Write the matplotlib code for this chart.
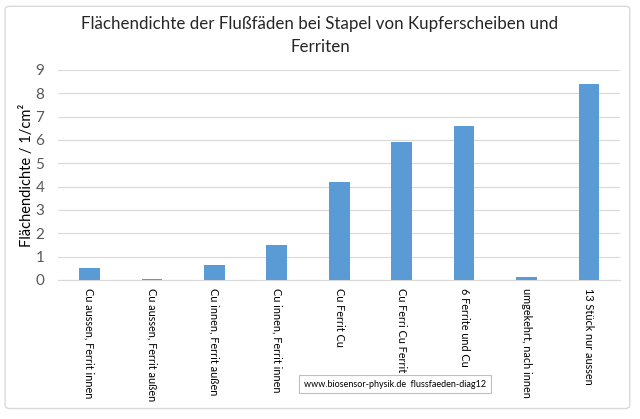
import matplotlib as mpl
mpl.use('Agg')
import matplotlib.pyplot as plt
import matplotlib.patches as patches

plt.rcParams['font.family'] = ['Lato', 'DejaVu Sans']

categories = ["Cu aussen, Ferrit innen", "Cu aussen, Ferrit außen", "Cu innen, Ferrit außen",
              "Cu innen, Ferrit innen", "Cu Ferrit Cu", "Cu Ferri Cu Ferrit",
              "6 Ferrite und Cu", "umgekehrt, nach innen", "13 Stück nur aussen"]
values = [0.52, 0.05, 0.63, 1.5, 4.2, 5.9, 6.6, 0.12, 8.42]

fig = plt.figure(figsize=(6.4, 4.19), dpi=100)
ax = fig.add_axes([0.091, 0.332, 0.878, 0.501])

# outer chart border
fig.patches.append(patches.FancyBboxPatch((0.008, 0.025), 0.976, 0.96, boxstyle="round,pad=0,rounding_size=0.008",
                                          transform=fig.transFigure, fill=False, edgecolor='#d9d9d9', lw=1))

ax.bar(range(len(values)), values, width=0.33, color='#5b9bd5', zorder=3)
ax.set_xlim(-0.5, len(values) - 0.5)
ax.set_ylim(0, 9)
ax.set_yticks(range(10))
ax.yaxis.grid(True, color='#d9d9d9', lw=0.8, zorder=0)
for s in ['top', 'right', 'left']:
    ax.spines[s].set_visible(False)
ax.spines['bottom'].set_color('#d9d9d9')
ax.tick_params(axis='both', length=0, colors='#595959', labelsize=10)
ax.tick_params(axis='y', pad=10, labelsize=11)
ax.set_xticks(range(len(values)))
ax.set_xticklabels(categories, rotation=-90, va='top', ha='center', color='black', fontsize=7.8)
ax.tick_params(axis='x', pad=6)
ax.set_ylabel("Flächendichte / 1/cm²", fontsize=10.5, labelpad=1, color='black')

fig.text(0.5, 0.916, "Flächendichte der Flußfäden bei Stapel von Kupferscheiben und\nFerriten",
         ha='center', va='center', fontsize=12.2, color='#262626', linespacing=1.55)

fig.text(0.475, 0.0835, "www.biosensor-physik.de  flussfaeden-diag12", fontsize=6.5, va='center', ha='left',
         bbox=dict(boxstyle='square,pad=0.5', facecolor='white', edgecolor='#bfbfbf', lw=0.8))

fig.savefig('out.png', dpi=100)
